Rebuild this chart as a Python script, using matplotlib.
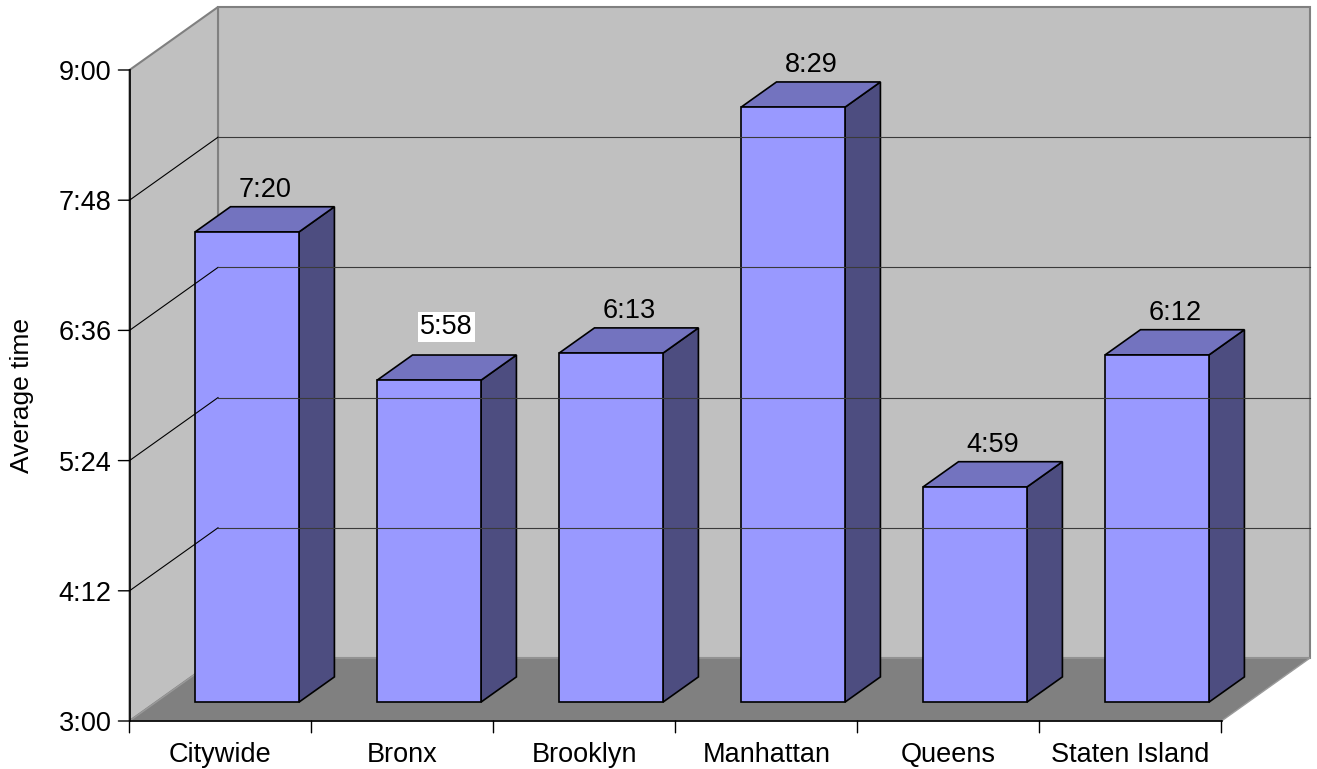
import matplotlib
matplotlib.use('Agg')
import matplotlib.pyplot as plt
from matplotlib.patches import Polygon

# data (seconds)
categories = ['Citywide', 'Bronx', 'Brooklyn', 'Manhattan', 'Queens', 'Staten Island']
avg_seconds = [440, 358, 373, 509, 299, 372]   # 7:20, 5:58, 6:13, 8:29, 4:59, 6:12
boxed_labels = ['Bronx']
y_ticks = [180, 252, 324, 396, 468, 540]
y_label = 'Average time'

plt.rcParams['font.family'] = ['Liberation Sans', 'DejaVu Sans']
FS = 19.5

# oblique 3d geometry (depth offset in data units)
DX = 88.5 / 182          # category units
DY = 63 * 360 / 651      # seconds
D0, D1 = 0.30, 0.70      # bar depth range
BAR_W = 0.571
YMIN, YMAX = y_ticks[0], y_ticks[-1]
N = len(categories)


def mmss(s):
    return f'{int(s) // 60}:{int(s) % 60:02d}'


def proj(u, s, d):
    return (u + d * DX, s + d * DY)


fig = plt.figure(figsize=(13.17, 7.69), dpi=100)
ax = fig.add_axes([0, 0, 1, 1])
ax.set_xlim(-129.5 / 182, (1317 - 129.5) / 182)
ax.set_ylim(180 - 48 * 360 / 651, 180 + 721 * 360 / 651)
ax.axis('off')

wall = '#C0C0C0'
edge_gray = '#808080'

# back wall, left wall, floor
ax.add_patch(Polygon([proj(0, YMIN, 1), proj(N, YMIN, 1), proj(N, YMAX, 1), proj(0, YMAX, 1)],
                     closed=True, fc=wall, ec=edge_gray, lw=1.5))
ax.add_patch(Polygon([proj(0, YMIN, 0), proj(0, YMIN, 1), proj(0, YMAX, 1), proj(0, YMAX, 0)],
                     closed=True, fc=wall, ec=edge_gray, lw=1.5))
ax.add_patch(Polygon([proj(0, YMIN, 0), proj(N, YMIN, 0), proj(N, YMIN, 1), proj(0, YMIN, 1)],
                     closed=True, fc='#808080', ec='#9a9a9a', lw=1.0))

# gridlines
for s in y_ticks[1:-1]:
    (x0, y0), (x1, y1) = proj(0, s, 0), proj(0, s, 1)
    ax.plot([x0, x1], [y0, y1], color='black', lw=0.8)
    (x2, y2) = proj(N, s, 1)
    ax.plot([x1, x2], [y1, y2], color='#3a3a3a', lw=0.8)

# bars
front_c, top_c, side_c = '#9999FF', '#7373BF', '#4D4D80'
for i, (cat, v) in enumerate(zip(categories, avg_seconds)):
    l = i + 0.5 - BAR_W / 2
    r = i + 0.5 + BAR_W / 2
    kw = dict(closed=True, ec='black', lw=1.2, joinstyle='miter')
    ax.add_patch(Polygon([proj(r, YMIN, D0), proj(r, YMIN, D1), proj(r, v, D1), proj(r, v, D0)],
                         fc=side_c, **kw))
    ax.add_patch(Polygon([proj(l, v, D0), proj(r, v, D0), proj(r, v, D1), proj(l, v, D1)],
                         fc=top_c, **kw))
    ax.add_patch(Polygon([proj(l, YMIN, D0), proj(r, YMIN, D0), proj(r, v, D0), proj(l, v, D0)],
                         fc=front_c, **kw))
    # value label above the top face
    cx = proj(i + 0.5, v, (D0 + D1) / 2)[0]
    cy = proj(i + 0.5, v, D1)[1]
    if cat in boxed_labels:
        ax.annotate(mmss(v), (cx, cy), xytext=(0, 15), textcoords='offset points',
                    ha='center', va='baseline', fontsize=FS,
                    bbox=dict(boxstyle='square,pad=0.08', fc='white', ec='none'))
    else:
        ax.annotate(mmss(v), (cx, cy), xytext=(0, 7), textcoords='offset points',
                    ha='center', va='baseline', fontsize=FS)

# axes lines
ax.plot([0, 0], [YMIN, YMAX], color='black', lw=1.2)
ax.plot([0, N], [YMIN, YMIN], color='black', lw=1.2)

# y ticks
for s in y_ticks:
    ax.annotate('', (0, s), xytext=(-8, 0), textcoords='offset points',
                arrowprops=dict(arrowstyle='-', color='black', lw=1.0, shrinkA=0, shrinkB=0))
    ax.annotate(mmss(s), (0, s), xytext=(-13, 0), textcoords='offset points',
                ha='right', va='center_baseline', fontsize=FS)

# x ticks and category labels
for k in range(N + 1):
    ax.annotate('', (k, YMIN), xytext=(0, -8.5), textcoords='offset points',
                arrowprops=dict(arrowstyle='-', color='black', lw=1.0, shrinkA=0, shrinkB=0))
for i, cat in enumerate(categories):
    ax.annotate(cat, (i + 0.5, YMIN), xytext=(0, -29.5), textcoords='offset points',
                ha='center', va='baseline', fontsize=FS)

fig.text(22 / 1317, 1 - 395 / 769, y_label, rotation=90, ha='center', va='center', fontsize=19)

fig.savefig('out.png', dpi=100)
